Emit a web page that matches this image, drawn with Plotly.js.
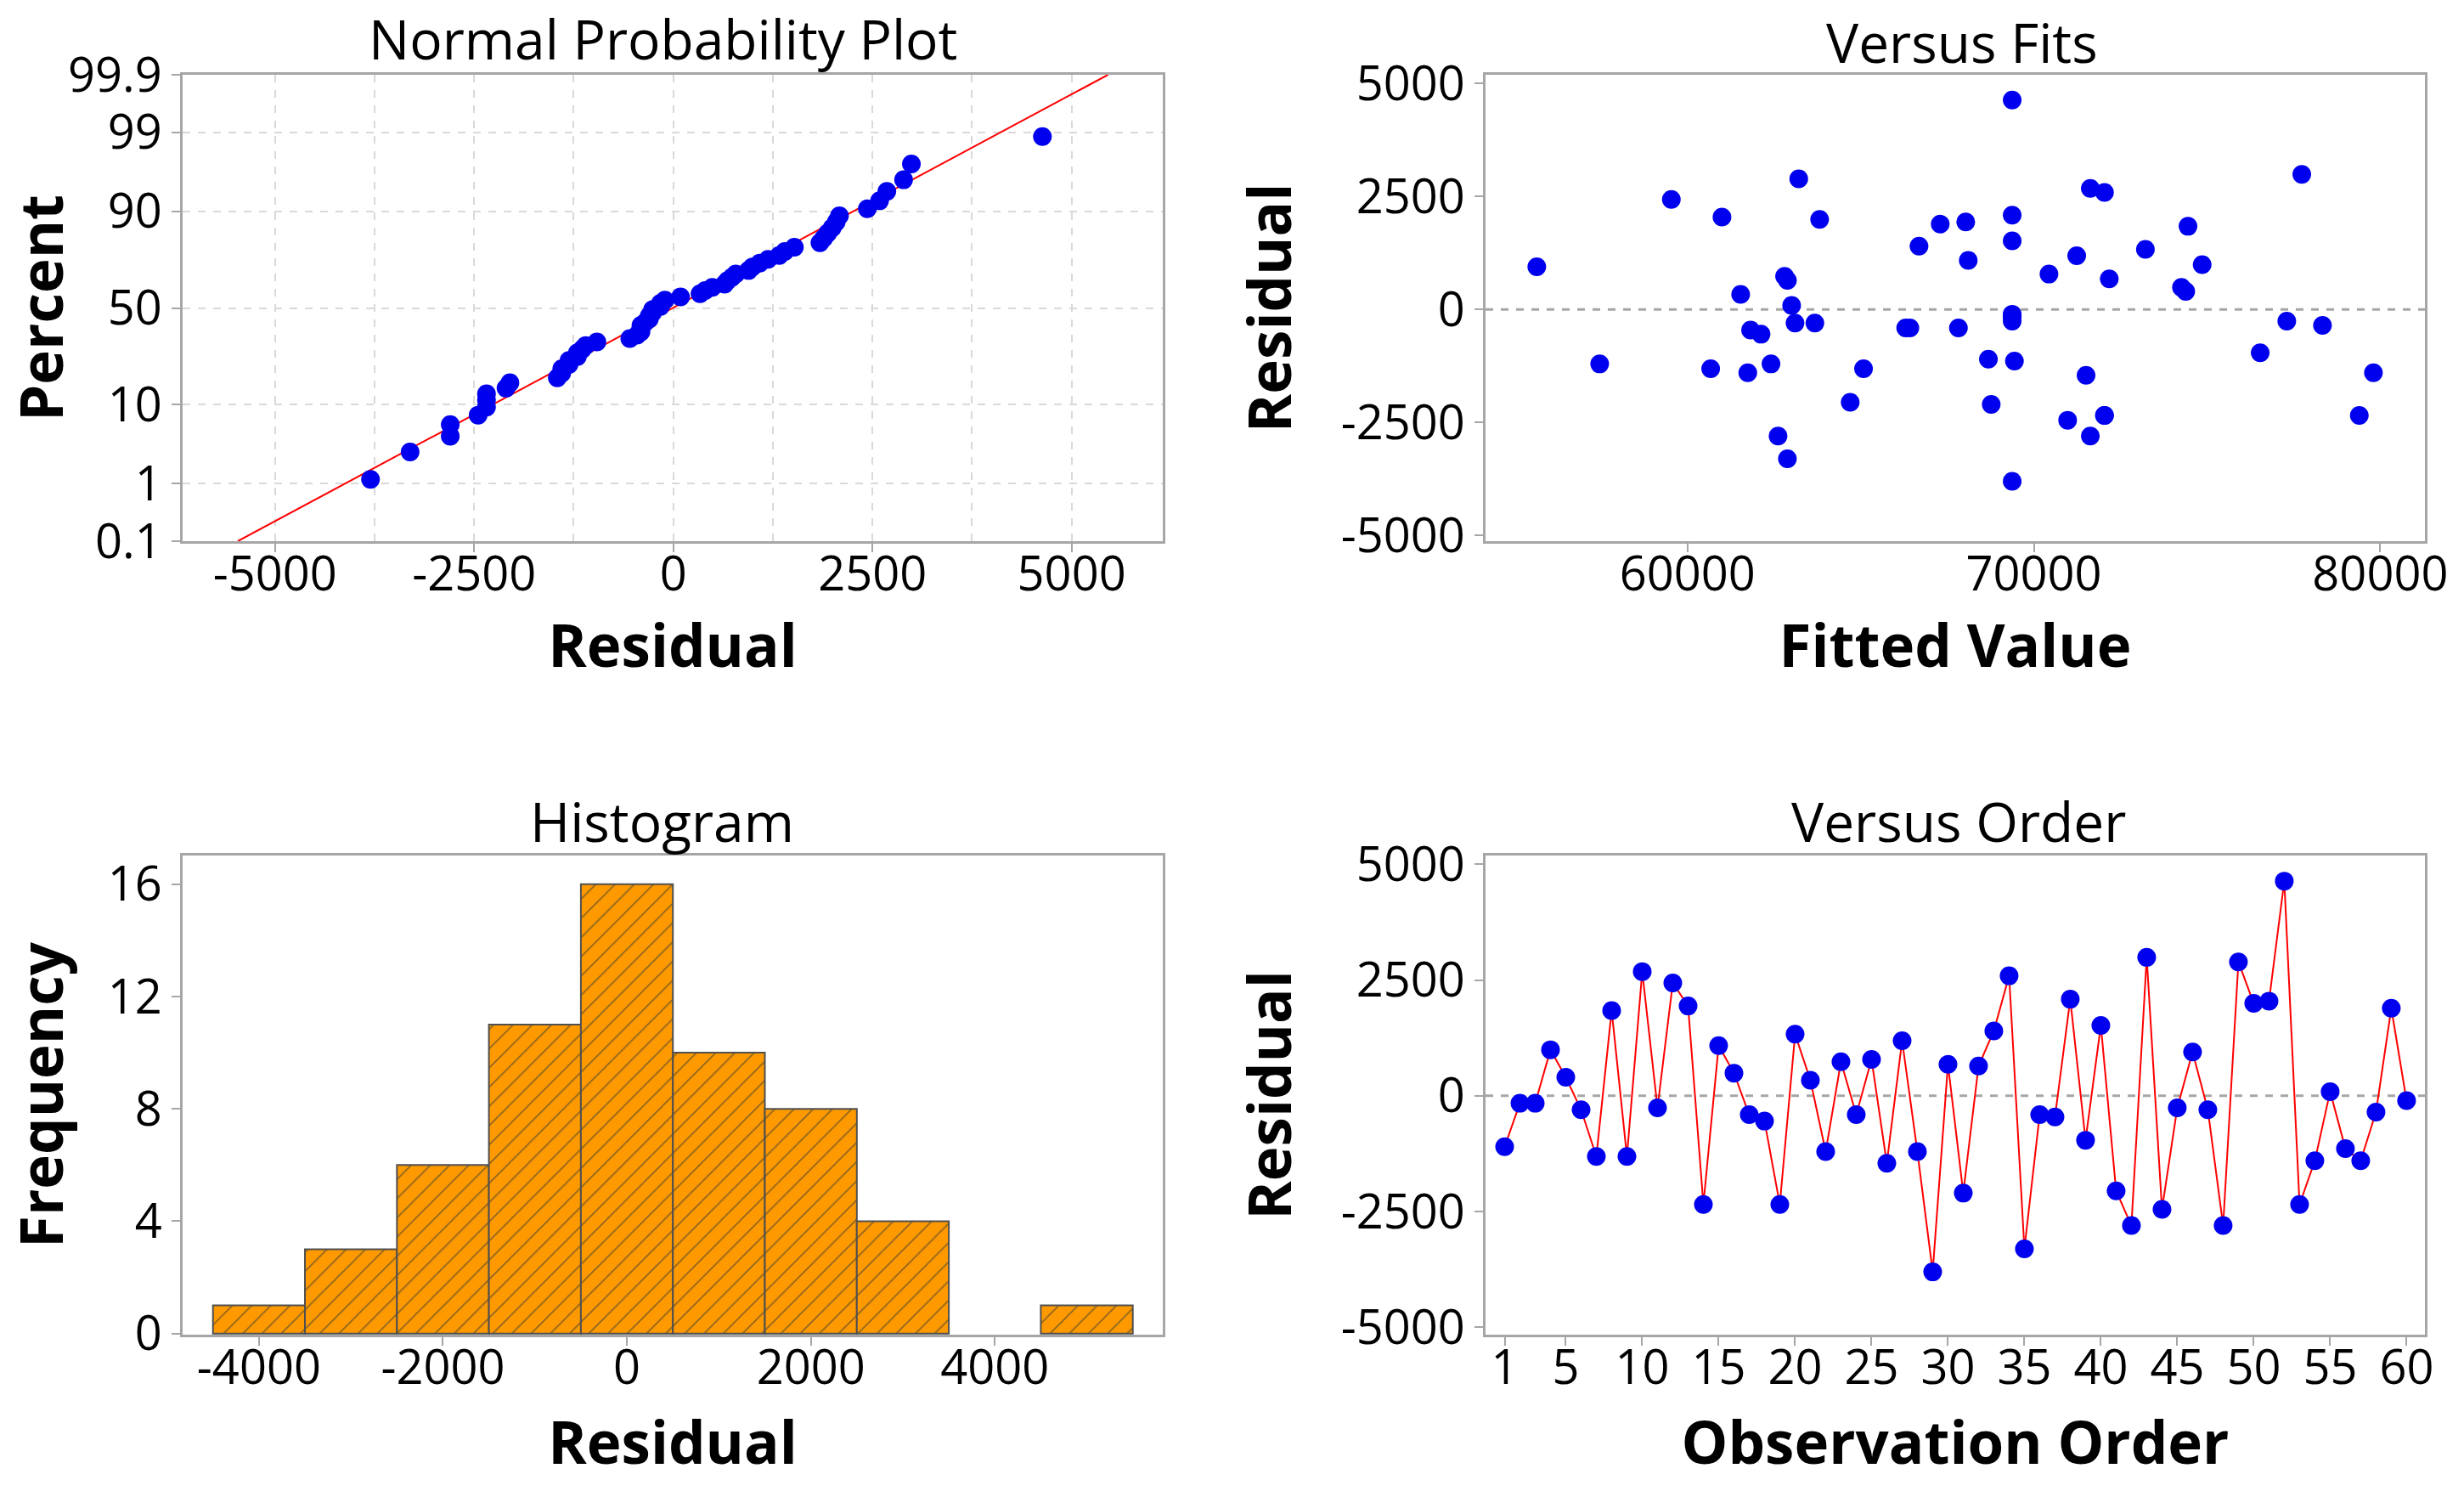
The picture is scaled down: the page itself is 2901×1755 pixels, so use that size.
<!DOCTYPE html>
<html>
<head>
<meta charset="utf-8">
<script src="https://cdn.plot.ly/plotly-3.0.1.min.js"></script>
<style>html,body{margin:0;padding:0;background:#fff;}#chart{width:2901px;height:1755px;}</style>
</head>
<body>
<div id="chart"></div>
<script>
// Residuals in observation order (1..60)
const residuals = [-1099, -161, -161, 994, 400, -301, -1309, 1841, -1309, 2681,
  -259, 2436, 1939, -2345, 1085, 490, -406, -546, -2345, 1330,
  336, -1204, 735, -406, 784, -1456, 1190, -1204, -3801, 679,
  -2100, 644, 1400, 2590, -3304, -406, -455, 2086, -959, 1520,
  -2051, -2800, 2989, -2450, -259, 945, -301, -2800, 2891, 1995,
  2044, 4634, -2345, -1400, 91, -1141, -1400, -350, 1890, -105];
// Fitted values in observation order
const fitted = [68688, 69374, 69374, 74859, 74384, 63105, 65083, 74450, 60670, 71630,
  77302, 59534, 68033, 72039, 68106, 74261, 66300, 62124, 79395, 73220,
  61535, 57465, 62803, 66420, 70436, 71507, 71237, 62411, 69374, 72177,
  68769, 62885, 66684, 72039, 62885, 67822, 61822, 69374, 76534, 69374,
  64698, 71630, 77735, 70975, 69374, 55650, 63678, 62615, 63212, 63815,
  60996, 69374, 72039, 79803, 63007, 69439, 61741, 78332, 67297, 69374];

// Tick labels
const probTickPct = [0.1, 1, 10, 50, 90, 99, 99.9];
const probTickText = ['0.1', '1', '10', '50', '90', '99', '99.9'];
const npX_ticks = [-5000, -2500, 0, 2500, 5000];
const npX_text = ['-5000', '-2500', '0', '2500', '5000'];
const resid_ticks = [-5000, -2500, 0, 2500, 5000];
const resid_text = ['-5000', '-2500', '0', '2500', '5000'];
const fit_ticks = [60000, 70000, 80000];
const fit_text = ['60000', '70000', '80000'];
const hist_x_ticks = [-4000, -2000, 0, 2000, 4000];
const hist_x_text = ['-4000', '-2000', '0', '2000', '4000'];
const hist_y_ticks = [0, 4, 8, 12, 16];
const order_ticks = [1, 5, 10, 15, 20, 25, 30, 35, 40, 45, 50, 55, 60];

// inverse standard normal CDF (Acklam) for the probability-axis transform
function invNorm(p) {
  const a = [-3.969683028665376e+01, 2.209460984245205e+02, -2.759285104469687e+02, 1.383577518672690e+02, -3.066479806614716e+01, 2.506628277459239e+00];
  const b = [-5.447609879822406e+01, 1.615858368580409e+02, -1.556989798598866e+02, 6.680131188771972e+01, -1.328068155288572e+01];
  const c = [-7.784894002430293e-03, -3.223964580411365e-01, -2.400758277161838e+00, -2.549671010466430e+00, 4.374664141464968e+00, 2.938163982698783e+00];
  const d = [7.784695709041462e-03, 3.224671290700398e-01, 2.445134137142996e+00, 3.754408661907416e+00];
  const pl = 0.02425, ph = 1 - pl;
  let q, r;
  if (p < pl) {
    q = Math.sqrt(-2 * Math.log(p));
    return (((((c[0]*q+c[1])*q+c[2])*q+c[3])*q+c[4])*q+c[5]) / ((((d[0]*q+d[1])*q+d[2])*q+d[3])*q+1);
  } else if (p <= ph) {
    q = p - 0.5; r = q*q;
    return (((((a[0]*r+a[1])*r+a[2])*r+a[3])*r+a[4])*r+a[5])*q / (((((b[0]*r+b[1])*r+b[2])*r+b[3])*r+b[4])*r+1);
  } else {
    q = Math.sqrt(-2 * Math.log(1 - p));
    return -(((((c[0]*q+c[1])*q+c[2])*q+c[3])*q+c[4])*q+c[5]) / ((((d[0]*q+d[1])*q+d[2])*q+d[3])*q+1);
  }
}

// Normal probability plot points (median ranks)
const n = residuals.length;
const sorted = residuals.slice().sort((a, b) => a - b);
const npZ = sorted.map((v, i) => invNorm((i + 1 - 0.3) / (n + 0.4)));
const mean = residuals.reduce((s, v) => s + v, 0) / n;
const sd = Math.sqrt(residuals.reduce((s, v) => s + (v - mean) * (v - mean), 0) / (n - 1));
const zLo = invNorm(0.001), zHi = invNorm(0.999);
const fitLineX = [mean + sd * zLo, mean + sd * zHi];
const fitLineY = [zLo, zHi];
const probTickVals = probTickPct.map(p => invNorm(p / 100));
const orderIdx = residuals.map((v, i) => i + 1);

const FONT = 'Open Sans, Noto Sans, DejaVu Sans, sans-serif';
const BLUE = '#0000EE';
const RED = '#FF0000';
const AX = '#a6a6a6';
const TICKSIZE = 56;
const TITLESIZE = 69;

function axisBase(extra) {
  return Object.assign({
    showline: true, mirror: true, linecolor: AX, linewidth: 3,
    ticks: 'outside', ticklen: 10, tickwidth: 2, tickcolor: AX,
    zeroline: false, showgrid: false,
    tickfont: {family: FONT, size: TICKSIZE, color: '#000', weight: 500},
    tickmode: 'array', automargin: false
  }, extra);
}
function axTitle(text, standoff) {
  return {text: text, standoff: standoff, font: {family: FONT, size: TITLESIZE, color: '#000', weight: 700}};
}

const traces = [
  // Normal probability plot
  {type: 'scatter', mode: 'lines', x: fitLineX, y: fitLineY, xaxis: 'x', yaxis: 'y',
   line: {color: RED, width: 2}, hoverinfo: 'skip'},
  {type: 'scatter', mode: 'markers', x: sorted, y: npZ, xaxis: 'x', yaxis: 'y',
   marker: {color: BLUE, size: 22}},
  // Versus fits
  {type: 'scatter', mode: 'markers', x: fitted, y: residuals, xaxis: 'x2', yaxis: 'y2',
   marker: {color: BLUE, size: 22}},
  // Histogram
  {type: 'histogram', x: residuals, xaxis: 'x3', yaxis: 'y3',
   xbins: {start: -4500, end: 5500, size: 1000}, autobinx: false,
   marker: {color: '#FF9900', line: {color: '#505050', width: 2},
            pattern: {shape: '/', fgcolor: '#8a6420', bgcolor: '#FF9900', size: 16, solidity: 0.1}}},
  // Versus order
  {type: 'scatter', mode: 'lines+markers', x: orderIdx, y: residuals, xaxis: 'x4', yaxis: 'y4',
   line: {color: RED, width: 2}, marker: {color: BLUE, size: 22}}
];

const W = 2901, H = 1755;
const px = v => v / W, py = v => 1 - v / H;
const XLS = -22;

const layout = {
  width: W, height: H,
  margin: {l: 0, r: 0, t: 0, b: 0},
  paper_bgcolor: '#ffffff', plot_bgcolor: '#ffffff',
  showlegend: false, bargap: 0,
  font: {family: FONT, color: '#000'},
  xaxis: axisBase({domain: [px(215), px(1369)], anchor: 'y', range: [-6160, 6145],
    tickvals: npX_ticks, ticktext: npX_text, ticklabelstandoff: XLS,
    showgrid: true, gridcolor: '#d9d9d9', gridwidth: 2, griddash: 'dash',
    minor: {tickvals: [-3750, -1250, 1250, 3750], showgrid: true, gridcolor: '#d9d9d9', gridwidth: 2, griddash: 'dash', ticks: ''},
    title: axTitle('Residual', 22)}),
  yaxis: axisBase({domain: [py(637), py(88)], anchor: 'x', range: [zLo, zHi],
    tickvals: probTickVals, ticktext: probTickText,
    showgrid: true, gridcolor: '#d9d9d9', gridwidth: 2, griddash: 'dash',
    title: axTitle('Percent', 14)}),
  xaxis2: axisBase({domain: [px(1749), px(2855)], anchor: 'y2', range: [54170, 81290],
    tickvals: fit_ticks, ticktext: fit_text, ticklabelstandoff: XLS, title: axTitle('Fitted Value', 22)}),
  yaxis2: axisBase({domain: [py(637), py(88)], anchor: 'x2', range: [-5126, 5194],
    tickvals: resid_ticks, ticktext: resid_text, title: axTitle('Residual', 36)}),
  xaxis3: axisBase({domain: [px(215), px(1369)], anchor: 'y3', range: [-4830, 5826],
    tickvals: hist_x_ticks, ticktext: hist_x_text, ticklabelstandoff: XLS, title: axTitle('Residual', 31)}),
  yaxis3: axisBase({domain: [py(1571), py(1007)], anchor: 'x3', range: [-0.04, 17.02],
    tickvals: hist_y_ticks, ticktext: hist_y_ticks.map(String), title: axTitle('Frequency', 36)}),
  xaxis4: axisBase({domain: [px(1749), px(2855)], anchor: 'y4', range: [-0.25, 61.2],
    tickvals: order_ticks, ticktext: order_ticks.map(String), ticklabelstandoff: XLS, title: axTitle('Observation Order', 31)}),
  yaxis4: axisBase({domain: [py(1571), py(1007)], anchor: 'x4', range: [-5156, 5187],
    tickvals: resid_ticks, ticktext: resid_text, title: axTitle('Residual', 36)}),
  shapes: [
    {type: 'line', xref: 'x2 domain', yref: 'y2', x0: 0, x1: 1, y0: 0, y1: 0,
     line: {color: '#a6a6a6', width: 3, dash: 'dash'}, layer: 'below'},
    {type: 'line', xref: 'x4 domain', yref: 'y4', x0: 0, x1: 1, y0: 0, y1: 0,
     line: {color: '#a6a6a6', width: 3, dash: 'dash'}, layer: 'below'}
  ],
  annotations: [
    {text: 'Normal Probability Plot', xref: 'paper', yref: 'paper', x: px(780), y: py(45), xanchor: 'center', yanchor: 'middle', showarrow: false, font: {family: FONT, size: 64, color: '#000', weight: 500}},
    {text: 'Versus Fits', xref: 'paper', yref: 'paper', x: px(2310), y: py(50), xanchor: 'center', yanchor: 'middle', showarrow: false, font: {family: FONT, size: 64, color: '#000', weight: 500}},
    {text: 'Histogram', xref: 'paper', yref: 'paper', x: px(779), y: py(966), xanchor: 'center', yanchor: 'middle', showarrow: false, font: {family: FONT, size: 64, color: '#000', weight: 500}},
    {text: 'Versus Order', xref: 'paper', yref: 'paper', x: px(2306), y: py(966), xanchor: 'center', yanchor: 'middle', showarrow: false, font: {family: FONT, size: 64, color: '#000', weight: 500}}
  ]
};

Plotly.newPlot('chart', traces, layout, {displayModeBar: false, staticPlot: true});
</script>
</body>
</html>
